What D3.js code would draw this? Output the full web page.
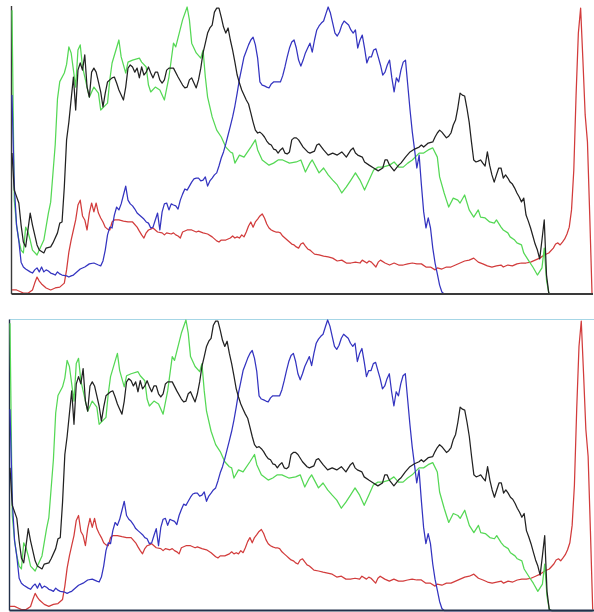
<!DOCTYPE html>
<html>
<head>
<meta charset="utf-8">
<script src="https://cdn.jsdelivr.net/npm/d3@7"></script>
<style>
  html, body { margin: 0; padding: 0; background: #ffffff; }
  svg { display: block; }
</style>
</head>
<body>
<svg id="chart" width="594" height="612"></svg>
<script>
// Histogram bins (0..255 intensity) and relative counts (% of channel maximum)
const redBins = [0,2,4,5,7,9,10,11,12,13,15,17,19,21,22,23,24,25,26,27,28,29,30,31,32,33,34,35,36,37,38,39,40,41,42,43,44,45,47,49,51,53,55,56,57,58,59,60,61,62,64,66,67,68,70,71,72,73,74,75,77,79,81,82,84,86,88,90,91,92,94,96,97,98,99,100,101,102,103,104,105,106,107,108,109,110,111,112,113,114,115,116,117,118,119,120,121,122,123,124,125,126,127,128,129,130,131,132,133,135,137,139,141,143,145,147,149,151,153,154,156,157,158,160,161,162,164,166,168,170,172,174,176,178,180,182,184,186,187,189,191,193,195,197,199,201,203,205,207,209,211,213,215,216,218,220,222,224,226,228,230,232,234,236,238,239,240,241,242,243,244,245,246,247,248,249,250,251,252,253,254,255];
const redVals = [1.4,1.4,0.7,0.3,0.3,1.4,3.8,5.9,4.5,3.5,2.1,1.4,2.1,2.4,3.1,3.8,8.4,14.6,18.8,22.3,25.8,31.0,32.7,27.2,25.8,22.3,28.2,31.7,28.6,31.7,28.2,26.5,25.1,23.3,22.6,22.3,25.1,25.8,25.8,25.4,25.1,25.1,23.3,21.9,20.6,19.5,21.3,22.3,22.6,23.0,21.6,21.3,20.6,21.3,20.9,21.3,20.6,20.2,19.5,21.6,22.3,22.3,21.6,21.9,21.3,20.9,19.9,18.5,18.1,18.8,18.8,19.5,20.2,19.5,19.9,19.5,20.6,19.9,21.6,23.7,25.1,23.3,25.1,26.1,27.2,27.9,26.5,24.4,23.0,22.3,21.9,21.6,21.6,21.3,20.2,19.5,18.8,18.1,17.4,17.1,16.4,16.0,17.4,17.8,16.7,15.7,15.3,14.6,13.9,13.6,13.2,12.9,12.5,11.5,11.8,10.8,10.8,11.1,10.8,11.8,10.8,11.5,11.1,9.4,11.1,11.8,10.8,10.1,10.8,10.1,10.1,10.5,10.8,10.5,10.5,9.4,9.4,8.4,9.1,8.7,9.4,9.4,10.1,10.8,11.5,11.8,12.5,11.1,10.5,9.8,9.4,9.8,10.1,9.4,10.1,9.8,10.5,10.8,10.8,11.1,11.8,12.5,13.6,14.3,16.0,17.4,17.8,17.1,18.1,19.2,20.9,23.3,29.3,43.2,69.3,90.9,99.6,81.5,62.4,53.0,27.5,0.3];

const greenBins = [0,1,2,3,4,5,6,7,8,9,11,14,16,17,18,19,20,21,23,24,25,26,28,29,30,31,34,36,38,39,42,43,44,47,48,50,51,53,56,57,59,60,61,63,65,67,69,71,72,75,77,78,79,81,83,84,85,86,88,90,92,94,96,97,98,100,102,105,107,108,110,113,115,117,119,122,125,127,129,131,132,135,137,139,141,143,145,147,149,151,153,155,157,159,161,163,166,168,170,172,174,176,179,181,183,185,187,188,190,191,192,194,196,197,199,201,203,205,206,208,210,212,213,215,216,218,219,221,222,224,225,227,229,231,233,234,235,236,237,255];
const greenVals = [98.9,32.7,24.0,18.8,15.3,14.3,23.3,21.6,18.8,15.3,13.6,18.8,28.2,32.0,42.0,52.0,68.0,74.0,77.0,80.0,86.1,84.0,72.1,85.0,86.8,79.1,68.6,72.1,70.0,64.1,66.5,74.6,80.5,88.5,82.6,77.0,80.8,81.5,82.2,80.8,79.1,72.8,70.4,72.1,71.1,67.6,75.6,87.4,86.1,95.5,100,95.5,87.4,84.0,82.2,85.0,75.6,68.6,61.7,57.1,54.7,51.2,49.5,49.1,45.6,48.4,47.7,51.2,53.7,50.2,46.7,44.9,45.6,46.7,46.7,45.6,46.0,46.7,42.5,45.6,46.7,42.2,43.9,41.5,39.7,38.0,35.2,37.3,39.7,42.2,39.7,36.2,39.7,43.2,44.2,44.2,44.9,46.0,44.2,44.2,45.6,46.7,49.1,49.1,50.2,50.9,47.7,40.8,35.2,32.7,30.3,33.4,32.7,31.7,34.5,29.3,26.8,29.3,26.8,26.5,25.1,24.7,25.8,23.3,22.3,21.3,19.9,18.8,17.8,17.1,14.3,11.8,9.4,6.6,9.1,16.0,4.9,0.3,0,0];

const blueBins = [0,1,2,3,4,5,6,8,9,10,11,12,13,14,15,16,17,18,19,20,21,22,24,25,26,27,28,30,32,34,36,38,39,40,41,42,43,44,45,46,47,48,49,50,51,52,53,54,55,56,57,58,59,60,61,62,63,64,65,66,67,68,69,70,71,72,73,74,75,76,77,78,79,80,81,82,83,84,85,86,87,88,89,90,91,92,93,94,95,96,97,98,99,100,101,102,103,104,105,106,107,108,109,110,111,112,113,114,115,116,117,118,119,120,121,122,123,124,125,126,127,128,129,130,131,132,133,134,135,136,137,138,139,140,141,142,143,144,145,146,147,148,149,150,151,152,153,154,155,156,157,158,159,160,161,162,163,164,165,166,167,168,169,170,171,172,173,174,175,176,177,178,179,180,181,182,183,184,185,186,187,188,189,190,255];
const blueVals = [69.3,38.0,24.0,18.5,11.1,9.4,8.7,7.7,7.3,8.4,9.1,7.7,9.4,7.7,8.4,8.0,7.3,7.0,6.6,7.7,7.0,6.6,6.3,5.9,6.3,6.6,7.3,8.7,9.4,10.5,10.8,10.1,9.8,11.5,15.3,20.6,23.3,23.0,27.5,30.3,29.3,31.4,34.5,37.6,32.7,31.4,30.7,29.6,28.2,27.5,26.8,26.1,25.1,24.7,23.0,23.3,25.8,28.2,22.3,28.6,31.4,31.7,29.3,31.4,31.0,30.7,29.6,32.7,34.8,36.6,36.2,37.6,39.0,40.1,40.4,40.4,39.4,39.7,40.8,37.6,39.4,40.4,41.5,42.2,44.6,47.4,49.5,52.3,55.4,58.5,61.7,65.5,70.0,74.9,78.7,82.6,84.7,86.8,88.5,89.5,86.8,82.2,73.9,72.8,72.5,72.1,71.8,73.2,73.9,73.9,73.9,73.9,76.0,79.1,82.6,85.7,87.8,88.5,85.7,81.5,79.4,81.5,84.0,85.7,87.4,84.3,88.5,92.0,93.4,94.4,95.1,97.6,100,97.9,94.4,90.9,89.9,91.3,93.7,95.1,94.4,93.7,92.0,90.9,92.0,85.7,88.5,90.2,85.7,80.5,82.6,82.6,85.0,85.4,82.6,79.8,76.3,77.3,79.8,81.5,75.3,70.4,75.3,73.9,78.0,80.8,81.5,72.8,64.1,56.4,50.2,43.9,48.4,38.0,28.6,23.0,26.5,23.0,16.0,10.8,7.0,3.1,0.7,0,0];

const blackBins = [0,1,3,4,5,6,8,9,11,12,14,15,17,18,20,21,22,23,24,25,27,28,29,30,31,32,33,34,35,36,37,38,39,40,41,42,43,44,45,46,47,48,49,50,51,52,53,54,55,56,57,58,59,60,61,62,63,64,65,66,67,68,69,71,73,75,76,77,78,79,80,81,82,83,84,85,86,87,88,89,90,91,92,93,94,95,96,97,98,99,100,101,102,103,104,105,106,107,108,109,110,111,112,113,114,115,116,117,118,119,120,121,122,123,124,125,126,128,130,131,133,134,135,137,139,141,143,145,147,149,150,151,152,154,155,157,159,161,163,164,165,166,168,170,171,173,175,177,179,180,181,183,185,186,187,188,189,191,192,193,194,195,196,197,198,199,200,201,202,203,204,205,206,207,208,209,210,211,212,213,214,215,216,217,218,219,220,221,222,223,224,225,226,227,228,229,230,231,232,233,234,235,236,237,255];
const blackVals = [49.1,36.2,31.7,24.0,18.1,16.4,28.2,24.0,17.1,15.3,14.3,16.0,16.4,17.8,21.3,24.7,25.1,37.3,53.7,59.9,75.6,64.1,78.0,80.5,78.0,83.3,72.1,68.6,77.3,78.7,77.3,73.9,70.4,65.2,70.0,73.9,74.6,75.3,75.6,73.5,71.1,69.3,67.6,72.1,78.7,79.8,79.1,77.3,78.7,75.3,79.1,76.3,77.3,79.1,77.0,75.3,77.3,77.3,74.6,73.5,74.6,78.0,78.7,78.7,75.6,72.8,71.8,72.1,74.6,75.3,73.5,71.8,74.6,78.7,84.0,87.4,90.9,92.7,93.7,98.2,99.6,99.6,96.5,93.0,90.9,92.7,88.5,85.0,80.8,76.3,73.5,71.1,69.3,67.6,66.2,63.1,59.9,57.1,56.1,56.4,55.7,54.7,53.3,52.3,51.9,50.5,50.2,49.1,50.2,50.9,49.1,48.8,49.5,53.7,54.4,54.4,53.7,51.2,49.5,49.1,49.8,51.9,52.3,50.2,48.4,49.1,48.4,49.5,47.7,50.2,50.9,49.1,48.4,47.7,46.0,44.9,43.9,42.9,43.9,46.7,46.7,44.9,42.9,44.9,45.6,47.7,49.5,50.5,51.2,51.9,51.2,52.6,53.0,54.7,56.1,57.1,56.4,54.4,55.0,56.1,58.9,60.6,64.8,70.0,69.3,69.0,64.8,59.9,53.0,46.7,46.0,46.3,46.7,45.6,44.6,49.5,44.9,41.5,39.0,41.5,43.9,43.9,40.4,41.5,40.4,39.0,38.3,36.9,35.2,33.8,32.1,33.4,27.5,25.4,23.0,20.2,17.4,15.3,12.2,18.8,25.8,6.6,0.3,0,0];

const series = [
  { name: "red",   bins: redBins,   vals: redVals,   color: "#d23c3c" },
  { name: "green", bins: greenBins, vals: greenVals, color: "#55d855" },
  { name: "blue",  bins: blueBins,  vals: blueVals,  color: "#3434c0" },
  { name: "gray",  bins: blackBins, vals: blackVals, color: "#222222" }
];

const binDomain = [0, 255];
const valDomain = [0, 100];

const svg = d3.select("#chart");

function drawPanel(opts) {
  const x = d3.scaleLinear().domain(binDomain).range(opts.xRange);
  const y = d3.scaleLinear().domain(valDomain).range(opts.yRange);
  const g = svg.append("g");

  // frame lines (top and left under the data)
  if (opts.topBorder) {
    g.append("line")
      .attr("x1", opts.frameLeft).attr("x2", opts.frameRight)
      .attr("y1", opts.frameTop).attr("y2", opts.frameTop)
      .attr("stroke", opts.topBorder).attr("stroke-width", 1.2);
  }
  g.append("line")
    .attr("x1", opts.frameLeft).attr("x2", opts.frameLeft)
    .attr("y1", opts.frameTop).attr("y2", opts.frameBottom)
    .attr("stroke", opts.axisColor).attr("stroke-width", 1.4);

  const line = d3.line()
    .x(d => x(d[0]))
    .y(d => y(d[1]));

  series.forEach(s => {
    const pts = s.bins.map((b, i) => [b, s.vals[i]]);
    g.append("path")
      .datum(pts)
      .attr("fill", "none")
      .attr("stroke", s.color)
      .attr("stroke-width", 1.25)
      .attr("stroke-linejoin", "round")
      .attr("d", line);
  });

  // baseline on top of the data
  g.append("line")
    .attr("x1", opts.frameLeft).attr("x2", opts.frameRight)
    .attr("y1", opts.frameBottom).attr("y2", opts.frameBottom)
    .attr("stroke", opts.axisColor).attr("stroke-width", 1.8);
}

drawPanel({
  xRange: [12, 592], yRange: [294, 7],
  frameLeft: 11.5, frameRight: 593, frameTop: 6, frameBottom: 294,
  axisColor: "#3a3a3a", topBorder: null
});

drawPanel({
  xRange: [10, 592.7], yRange: [610.5, 320],
  frameLeft: 9.5, frameRight: 594, frameTop: 319.5, frameBottom: 610.5,
  axisColor: "#22304a", topBorder: "#a6d6e6"
});
</script>
</body>
</html>
